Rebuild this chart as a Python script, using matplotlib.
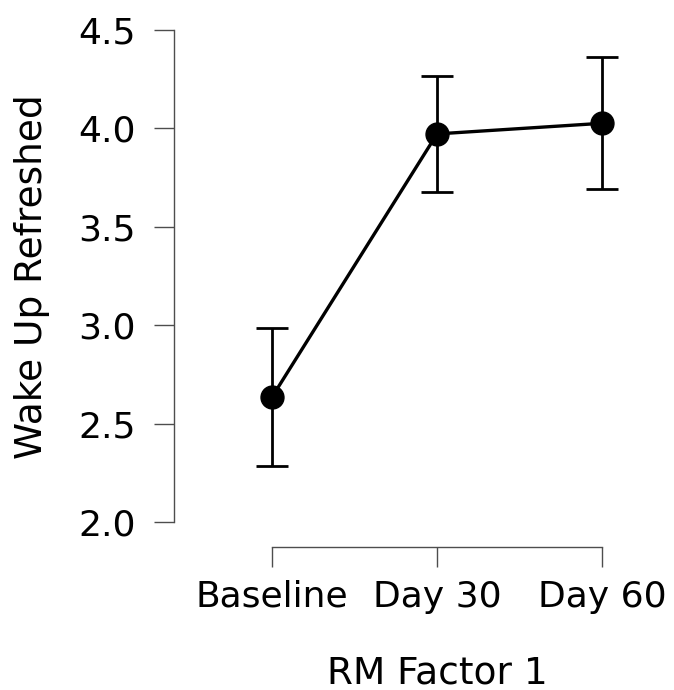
import matplotlib
matplotlib.use("Agg")
import matplotlib.pyplot as plt

# values
conditions = ["Baseline", "Day 30", "Day 60"]
means = [2.635, 3.972, 4.026]
ci_upper = [2.986, 4.265, 4.364]
ci_lower = [2.285, 3.678, 3.691]
y_ticks = [2.0, 2.5, 3.0, 3.5, 4.0, 4.5]

plt.rcParams["font.family"] = ["DejaVu Sans"]

W, H = 674, 690
fig = plt.figure(figsize=(W / 100, H / 100), dpi=100)

# axes box in pixels: left spine at 174, bottom spine at 547, top at 30, right at 640
left, right, top, bottom = 174, 640, 30, 547
ax = fig.add_axes([left / W, 1 - bottom / H, (right - left) / W, (bottom - top) / H])

x = list(range(len(conditions)))
err_lo = [m - l for m, l in zip(means, ci_lower)]
err_hi = [u - m for m, u in zip(means, ci_upper)]

ax.errorbar(x, means, yerr=[err_lo, err_hi], fmt="none", ecolor="black",
            elinewidth=2, capsize=11.5, capthick=2, zorder=2)
ax.plot(x, means, color="black", linewidth=2.4, zorder=3)
ax.plot(x, means, "o", color="black", markersize=16.5, zorder=4)

ax.set_xlim(-0.594, 2.23)
ax.set_ylim(1.873, 4.5)

for s in ["top", "right"]:
    ax.spines[s].set_visible(False)
for s in ["left", "bottom"]:
    ax.spines[s].set_color("#4d4d4d")
    ax.spines[s].set_linewidth(1.0)
ax.spines["left"].set_bounds(y_ticks[0], y_ticks[-1])
ax.spines["bottom"].set_bounds(x[0], x[-1])

ax.set_yticks(y_ticks)
ax.set_yticklabels([f"{v:.1f}" for v in y_ticks])
ax.set_xticks(x)
ax.set_xticklabels(conditions)
ax.tick_params(axis="both", length=14.5, width=1.0, color="#4d4d4d",
               labelsize=26, labelcolor="black")
ax.tick_params(axis="y", pad=13)
ax.tick_params(axis="x", pad=9)

fig.text(32 / W, 1 - 277 / H, "Wake Up Refreshed", rotation=90,
         ha="center", va="center", fontsize=27)
fig.text(437 / W, 1 - 683 / H, "RM Factor 1", ha="center", va="baseline",
         fontsize=27)

fig.savefig("out.png", dpi=100)
